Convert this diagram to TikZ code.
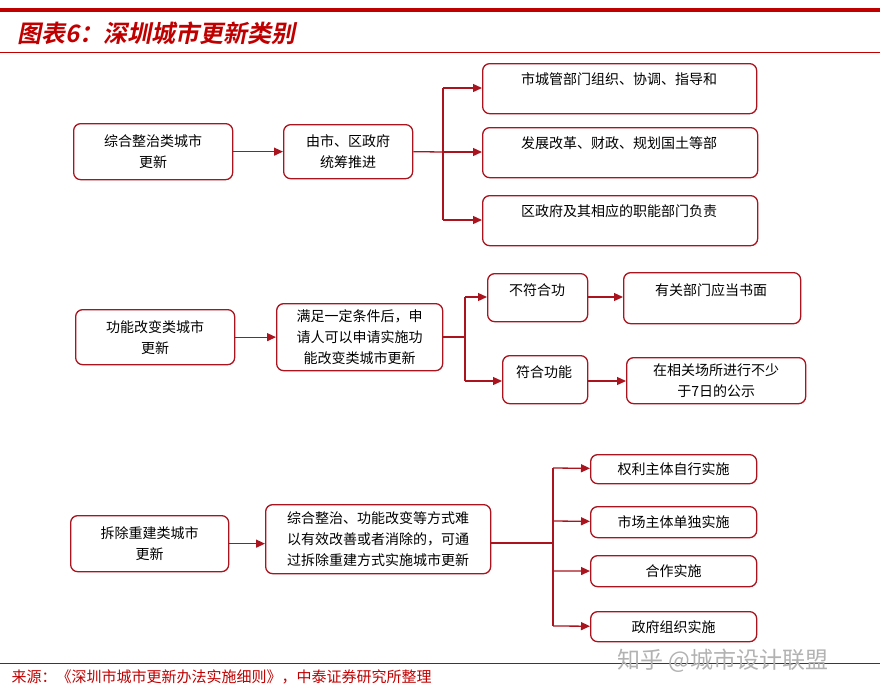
\documentclass[tikz,border=0pt]{standalone}
\usepackage{fontspec}
\setmainfont{Noto Sans CJK SC}
\newfontfamily\titlefont[FakeSlant=0.2]{Noto Sans CJK SC Bold}
\usetikzlibrary{arrows.meta}
\definecolor{dred}{RGB}{192,0,0}
\definecolor{bred}{RGB}{170,20,30}
\tikzset{
 bx/.style={draw=bred,line width=1.3pt,rounded corners=7pt,align=center,font=\fontsize{14}{21}\selectfont,inner sep=0pt},
 tx/.style={font=\fontsize{14}{21}\selectfont},
 ln/.style={draw=bred,line width=1.3pt},
 ar/.style={ln,-{Triangle[length=9pt,width=8pt]}}
}
\newcommand{\bxat}[6]{\node[bx,minimum width=#4-#2,minimum height=#5-#3,anchor=north west] (#1) at (#2,#3) {#6};}
\begin{document}
\begin{tikzpicture}[x=1pt,y=-1pt]
\useasboundingbox (0,0) rectangle (880,699);
\draw[dred,line width=4pt] (0,10) -- (880,10);
\node[anchor=west,text=dred,font=\fontsize{24}{26}\titlefont] (title) at (14,33) {图表6：深圳城市更新类别};
\draw[dred,line width=1pt] (0,52) -- (880,52);
% section 1
\bxat{a1}{73}{123}{232}{179}{综合整治类城市\\更新}
\bxat{b1}{283}{124}{412}{178}{由市、区政府\\统筹推进}
\node[bx,minimum width=274,minimum height=50,anchor=north west] (c1) at (482,63) {};
\node[tx] (c1t) at (619,79) {市城管部门组织、协调、指导和};
\node[bx,minimum width=275,minimum height=50,anchor=north west] (c2) at (482,127) {};
\node[tx] (c2t) at (619,143) {发展改革、财政、规划国土等部};
\node[bx,minimum width=275,minimum height=50,anchor=north west] (c3) at (482,195) {};
\node[tx] (c3t) at (619,211) {区政府及其相应的职能部门负责};
\draw[ar] (a1) -- (b1);
\coordinate (s1) at (443,152);
\draw[ln] (b1.east) -- (s1);
\draw[ln] (443,88) -- (443,220);
\draw[ar] (443,88) -- (c1.west|-0,88);
\draw[ar] (s1) -- (c2.west|-0,152);
\draw[ar] (443,220) -- (c3.west|-0,220);
% section 2
\bxat{a2}{75}{309}{234}{364}{功能改变类城市\\更新}
\bxat{b2}{276}{303}{442}{370}{满足一定条件后，申\\请人可以申请实施功\\能改变类城市更新}
\node[bx,minimum width=100,minimum height=48,anchor=north west] (d2) at (487,273) {};
\node[tx] (d2t) at (537,290) {不符合功};
\node[bx,minimum width=85,minimum height=48,anchor=north west] (e2) at (502,355) {};
\node[tx] (e2t) at (544,372) {符合功能};
\node[bx,minimum width=177,minimum height=51,anchor=north west] (f2) at (623,272) {};
\node[tx] (f2t) at (711,290) {有关部门应当书面};
\bxat{g2}{626}{357}{805}{403}{在相关场所进行不少\\于7日的公示}
\draw[ar] (a2) -- (b2);
\coordinate (s2) at (465,337);
\draw[ln] (b2.east|-s2) -- (s2);
\draw[ln] (465,297) -- (465,381);
\draw[ar] (465,297) -- (d2.west|-0,297);
\draw[ar] (465,381) -- (e2.west|-0,381);
\draw[ar] (d2.east|-0,297) -- (f2.west|-0,297);
\draw[ar] (e2.east|-0,381) -- (g2.west|-0,381);
% section 3
\bxat{a3}{70}{515}{228}{571}{拆除重建类城市\\更新}
\bxat{b3}{265}{504}{490}{573}{综合整治、功能改变等方式难\\以有效改善或者消除的，可通\\过拆除重建方式实施城市更新}
\bxat{h3}{590}{454}{756}{483}{权利主体自行实施}
\bxat{i3}{590}{506}{756}{537}{市场主体单独实施}
\bxat{j3}{590}{555}{756}{586}{合作实施}
\bxat{k3}{590}{611}{756}{641}{政府组织实施}
\draw[ar] (a3) -- (b3.west|-a3);
\coordinate (s3) at (553,543);
\draw[ln] (b3.east|-s3) -- (s3);
\draw[ln] (553,468) -- (553,626);
\draw[ar] (553,468) -- (h3);
\draw[ar] (553,521) -- (i3);
\draw[ar] (553,571) -- (j3);
\draw[ar] (553,626) -- (k3);
% footer
\draw[dred,line width=1pt] (0,663) -- (880,663);
\node[anchor=west,text=dred,font=\fontsize{15}{17}\selectfont] (src) at (8,677) {来源：《深圳市城市更新办法实施细则》，中泰证券研究所整理};
\node[anchor=west,text=black!30,font=\fontsize{23}{25}\selectfont] (wm) at (614,661) {知乎 @城市设计联盟};
\end{tikzpicture}
\end{document}
